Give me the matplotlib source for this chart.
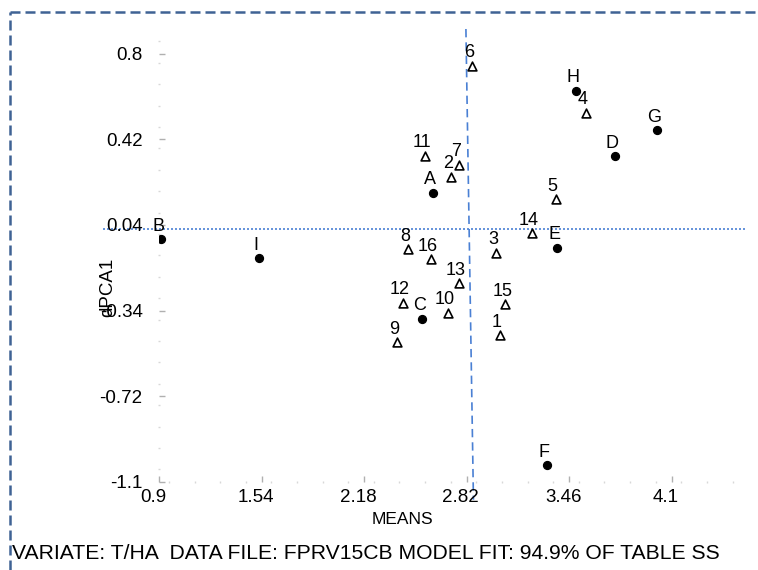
import matplotlib
matplotlib.use("Agg")
import matplotlib.pyplot as plt
from matplotlib import font_manager
from matplotlib.lines import Line2D
from matplotlib.transforms import ScaledTranslation
from matplotlib.ticker import MultipleLocator, FixedLocator

names = {f.name for f in font_manager.fontManager.ttflist}
FONT = "Liberation Sans" if "Liberation Sans" in names else "DejaVu Sans"
plt.rcParams["font.family"] = [FONT, "DejaVu Sans"]

# genotypes (triangles)
gen_labels = ["1", "2", "3", "4", "5", "6", "7", "8", "9", "10", "11", "12", "13", "14", "15", "16"]
gen_means = [3.028, 2.722, 3.003, 3.565, 3.375, 2.853, 2.770, 2.455, 2.386, 2.701, 2.561, 2.420, 2.772, 3.226, 3.061, 2.595]
gen_pca = [-0.449, 0.254, -0.083, 0.539, 0.155, 0.746, 0.308, -0.067, -0.481, -0.349, 0.347, -0.305, -0.219, 0.003, -0.312, -0.112]

# environments (dots)
env_labels = ["A", "B", "C", "D", "E", "F", "G", "H", "I"]
env_means = [2.611, 0.911, 2.542, 3.744, 3.384, 3.323, 4.010, 3.500, 1.521]
env_pca = [0.182, -0.024, -0.377, 0.345, -0.062, -1.027, 0.461, 0.635, -0.108]

x_ticks = [0.9, 1.54, 2.18, 2.82, 3.46, 4.1]
y_ticks = [0.8, 0.42, 0.04, -0.34, -0.72, -1.1]
grand_mean_line_x = [2.815, 2.862]
grand_mean_line_y = [0.91, -1.18]
zero_line_y = 0.022

W, H = 758, 570
fig = plt.figure(figsize=(W / 100, H / 100), dpi=100)
ax = fig.add_axes([159.3 / W, 1 - 481.7 / H, (745 - 159.3) / W, (481.7 - 29) / H])
ax.set_xlim(0.9, 4.558)
ax.set_ylim(-1.1, 0.91)
for s in ax.spines.values():
    s.set_visible(False)

# reference lines
ax.plot([0.55, 4.558], [zero_line_y, zero_line_y], ls=(0, (1.2, 1.2)), color="#4a80d4",
        lw=1.2, clip_on=False, zorder=1)
ax.plot(grand_mean_line_x, grand_mean_line_y, ls=(0, (5, 3)), color="#4a80d4",
        lw=1.2, clip_on=False, zorder=1)

# markers
ax.scatter(gen_means, gen_pca, marker="^", s=40, facecolor="white", edgecolor="black",
           linewidths=1.2, zorder=3)
ax.scatter(env_means, env_pca, marker="o", s=32, color="black", zorder=3)

for lab, x, y in zip(gen_labels + env_labels, gen_means + env_means, gen_pca + env_pca):
    ax.annotate(lab, (x, y), xytext=(-3, 13), textcoords="offset pixels",
                ha="center", va="center", fontsize=13, color="black", zorder=4)

# ticks
ax.xaxis.set_major_locator(FixedLocator(x_ticks))
ax.yaxis.set_major_locator(FixedLocator(y_ticks))
ax.set_xticklabels([f"{v:g}" for v in x_ticks])
ax.set_yticklabels([f"{v:g}" for v in y_ticks])
ax.xaxis.set_minor_locator(MultipleLocator(0.16))
ax.yaxis.set_minor_locator(MultipleLocator(0.095))
ax.tick_params(which="major", direction="in", length=4, width=1, color="#b0b0b0",
               labelsize=13.5, labelcolor="black")
ax.tick_params(axis="x", which="major", pad=5)
ax.tick_params(axis="y", which="major", pad=12)
ax.tick_params(which="minor", direction="inout", length=1.5, width=1, color="#d8d8d8")
off = ScaledTranslation(-6 / 100, 0, fig.dpi_scale_trans)
for lbl in ax.get_xticklabels():
    lbl.set_transform(lbl.get_transform() + off)

ax.set_xlabel("MEANS", fontsize=12.5)
ax.xaxis.set_label_coords((402 - 159.3) / (745 - 159.3), -(519 - 481.7) / (481.7 - 29))
ax.xaxis.label.set_va("center")
ax.set_ylabel("dPCA1", fontsize=13.5)
ax.yaxis.set_label_coords(-(159.3 - 108) / (745 - 159.3), (481.7 - 287) / (481.7 - 29))
ax.yaxis.label.set_va("center")

# footer
fig.text(12 / W, 1 - 553.5 / H, "VARIATE: T/HA  DATA FILE: FPRV15CB MODEL FIT: 94.9% OF TABLE SS",
         fontsize=15.2, ha="left", va="center")

# dashed border (left and top)
bc = "#3f6294"
fig.add_artist(Line2D([10 / W, 10 / W], [0, 1 - 12 / H], transform=fig.transFigure,
                      color=bc, lw=1.8, ls=(0, (4, 2))))
fig.add_artist(Line2D([10 / W, 1], [1 - 12 / H, 1 - 12 / H], transform=fig.transFigure,
                      color=bc, lw=1.8, ls=(0, (4, 2))))

fig.savefig("out.png", dpi=100)
